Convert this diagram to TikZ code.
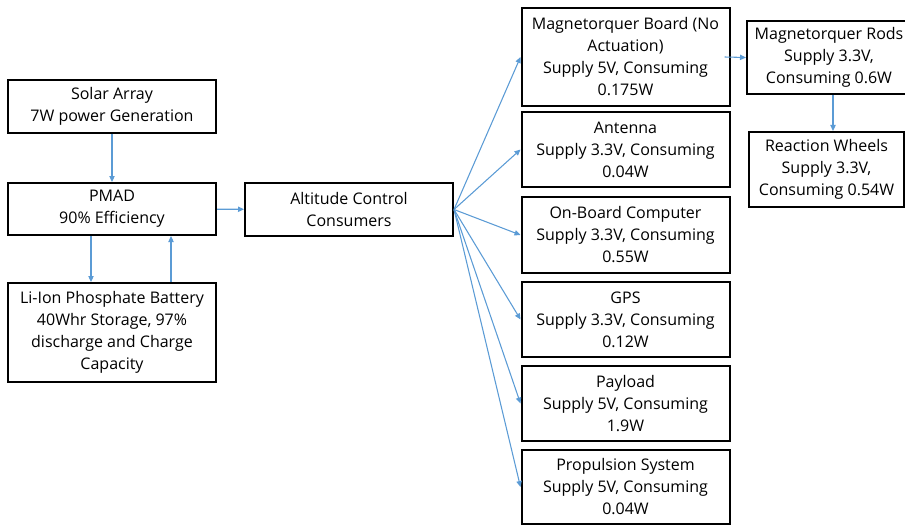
\documentclass[tikz,border=0pt]{standalone}
\usepackage{fontspec}
\setmainfont{Open Sans}
\usetikzlibrary{positioning,arrows.meta}
\definecolor{linkblue}{HTML}{5B9BD5}

\tikzset{
  block/.style={draw, line width=1.5pt, align=center, inner sep=1pt,
    minimum width=156pt, font=\fontsize{12}{16.5}\selectfont},
  link/.style={draw=linkblue, line width=0.8pt, -{Triangle[length=4.5pt,width=4pt]}},
}

\begin{document}
\begin{tikzpicture}[x=0.75pt,y=-0.75pt]
    \useasboundingbox (0,0) rectangle (905,524);
    \clip (0,0) rectangle (905,524);

    % Power side
    \node[block, minimum height=39.75pt] (solar) at (112,106.5) {Solar Array\\7W power Generation};
    \node[block, minimum height=39pt] (pmad) at (112,209) {PMAD\\90\% Efficiency};
    \node[block, minimum height=74.25pt] (battery) at (112,332.5)
        {Li-Ion Phosphate Battery\\40Whr Storage, 97\%\\discharge and Charge\\Capacity};
    \node[block, minimum height=39.75pt] (alt) at (349,209.5) {Altitude Control\\Consumers};

    % Consumers
    \node[block, minimum height=73.5pt] (board) at (625.5,57)
        {Magnetorquer Board (No\\Actuation)\\Supply 5V, Consuming\\0.175W};
    \node[block, minimum height=56.25pt] (antenna) at (625.5,149.5) {Antenna\\Supply 3.3V, Consuming\\0.04W};
    \node[block, minimum height=57pt] (obc) at (625.5,235) {On-Board Computer\\Supply 3.3V, Consuming\\0.55W};
    \node[block, minimum height=56.25pt] (gps) at (625.5,319.5) {GPS\\Supply 3.3V, Consuming\\0.12W};
    \node[block, minimum height=56.25pt] (payload) at (625.5,403.5) {Payload\\Supply 5V, Consuming\\1.9W};
    \node[block, minimum height=55.5pt] (propulsion) at (625.5,487) {Propulsion System\\Supply 5V, Consuming\\0.04W};

    % Magnetorquer chain
    \node[block, minimum width=123pt, minimum height=54.75pt] (rods) at (829,57.5)
        {Magnetorquer Rods\\Supply 3.3V,\\Consuming 0.6W};
    \node[block, minimum width=116.25pt, minimum height=56.25pt] (wheels) at (826.5,169.5)
        {Reaction Wheels\\Supply 3.3V,\\Consuming 0.54W};

    % Power flow
    \draw[link] (solar) -- (pmad);
    \draw[link] ([xshift=-15.75pt]pmad.south) -- ([xshift=-15.75pt]battery.north);
    \draw[link] ([xshift=44.25pt]battery.north) -- ([xshift=44.25pt]pmad.south);
    \draw[link] (pmad) -- (alt);
    \foreach \dst in {board,antenna,obc,gps,payload,propulsion}
        \draw[link] (alt.east) -- (\dst.west);
    \draw[link] ([xshift=-4.5pt]board.east) -- (rods.west);
    \draw[link] ([xshift=3pt]rods.south) -- ([xshift=3pt]rods.south |- wheels.north);
\end{tikzpicture}
\end{document}
